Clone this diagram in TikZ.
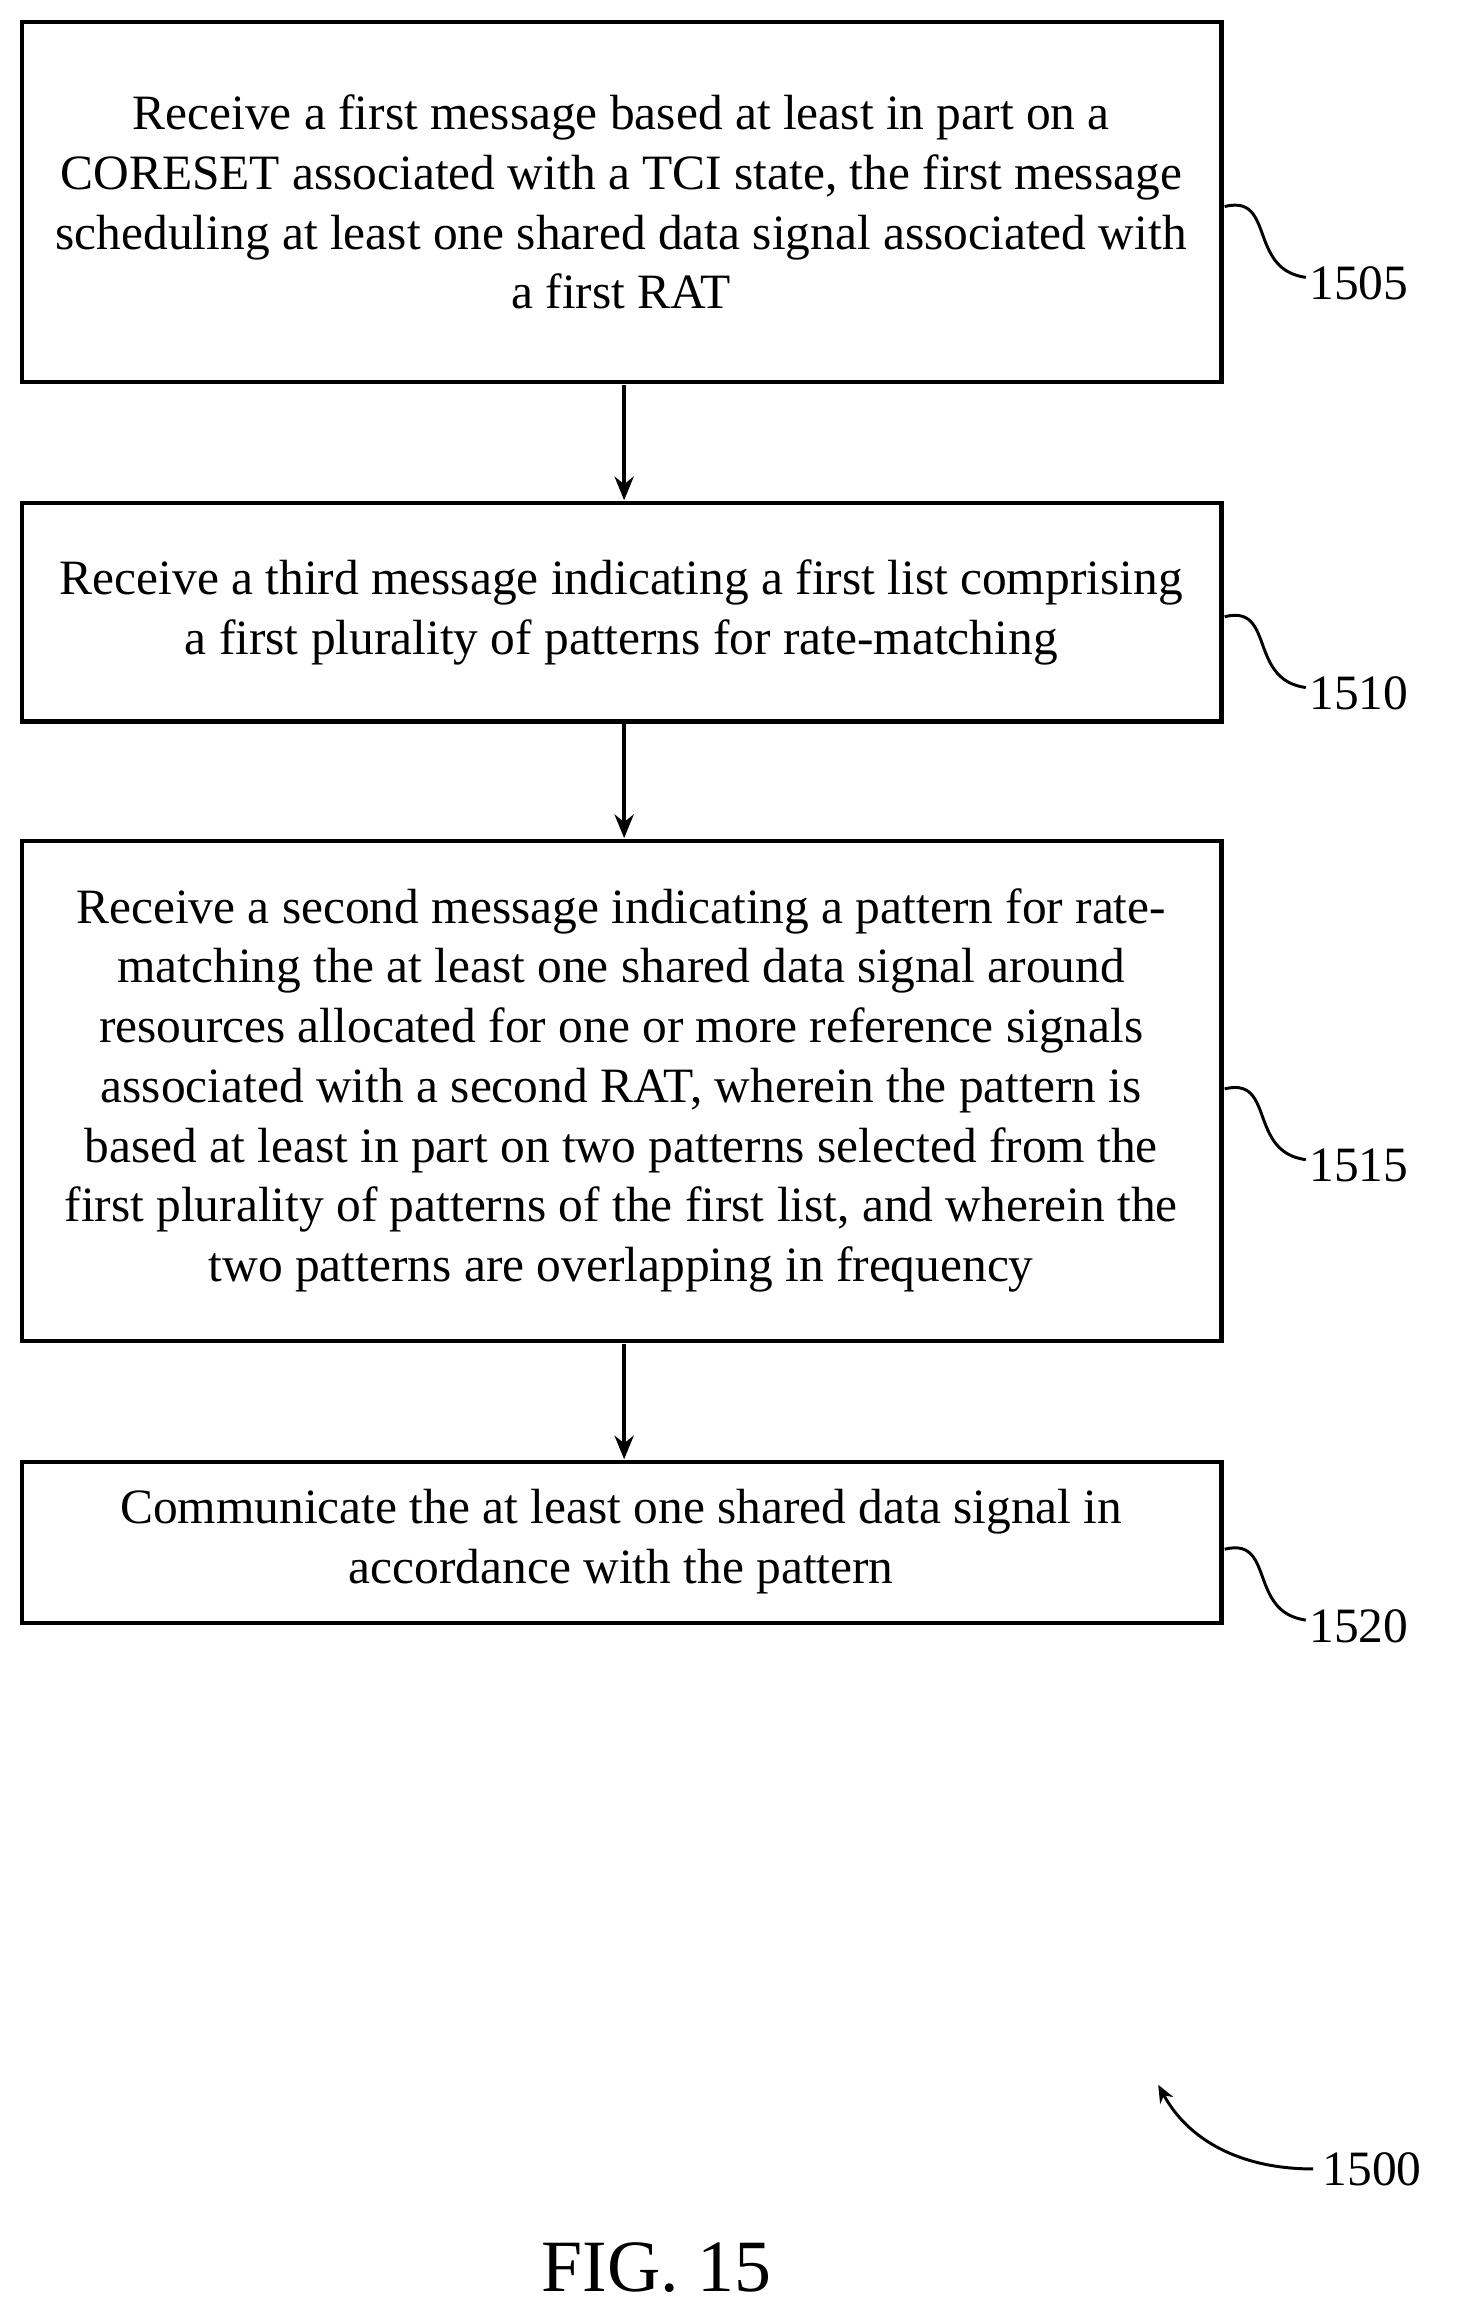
\documentclass[tikz,border=0pt]{standalone}
\usepackage{fontspec}
\setmainfont{Liberation Serif}
\usetikzlibrary{arrows.meta}
\begin{document}
\begin{tikzpicture}[x=1pt,y=-1pt,
 box/.style={draw,line width=3pt,inner sep=0pt},
 txt/.style={align=center,font=\fontsize{33.5}{40.5}\selectfont},
 arr/.style={-{Stealth[length=16pt,width=13pt]},line width=2.6pt},
 sq/.style={line width=2pt},
 lab/.style={font=\fontsize{33.5}{36}\selectfont,anchor=west}]
\useasboundingbox (0,0) rectangle (989,1569);
\draw[box] (15,15) rectangle (828,259);
\node[txt] (t1) at (421,137) {Receive a first message based at least in part on a\\CORESET associated with a TCI state, the first message\\scheduling at least one shared data signal associated with\\a first RAT};
\draw[box] (15,341) rectangle (828,489);
\node[txt] (t2) at (421,415) {Receive a third message indicating a first list comprising\\a first plurality of patterns for rate-matching};
\draw[box] (15,570) rectangle (828,909);
\node[txt] (t3) at (421,739) {Receive a second message indicating a pattern for rate-\\matching the at least one shared data signal around\\resources allocated for one or more reference signals\\associated with a second RAT, wherein the pattern is\\based at least in part on two patterns selected from the\\first plurality of patterns of the first list, and wherein the\\two patterns are overlapping in frequency};
\draw[box] (15,991) rectangle (828,1100);
\node[txt] (t4) at (421,1045) {Communicate the at least one shared data signal in\\accordance with the pattern};
\coordinate (a1) at (423,261); \coordinate (a2) at (423,339);
\coordinate (a3) at (423,491); \coordinate (a4) at (423,568);
\coordinate (a5) at (423,911); \coordinate (a6) at (423,989);
\draw[arr] (a1)--(a2); \draw[arr] (a3)--(a4); \draw[arr] (a5)--(a6);
\foreach \y/\n in {140/1505,418/1510,738/1515,1050/1520}{
 \draw[sq] (830,\y) .. controls (850,\y-5) and (852,\y+10) .. (858,\y+25) .. controls (864,\y+40) and (872,\y+46) .. (885,\y+48);
 \node[lab] (l\n) at (884,\y+52) {\n};
}
\node[lab] (l1500) at (893,1470) {1500};
\coordinate (c1) at (890,1470); \coordinate (c2) at (785,1413);
\draw[-{Stealth[length=12pt,width=10pt]},line width=2pt] (c1) .. controls (840,1470) and (805,1450) .. (c2);
\node[font=\fontsize{50}{54}\selectfont] (fig) at (445,1537) {FIG. 15};
\end{tikzpicture}
\end{document}
